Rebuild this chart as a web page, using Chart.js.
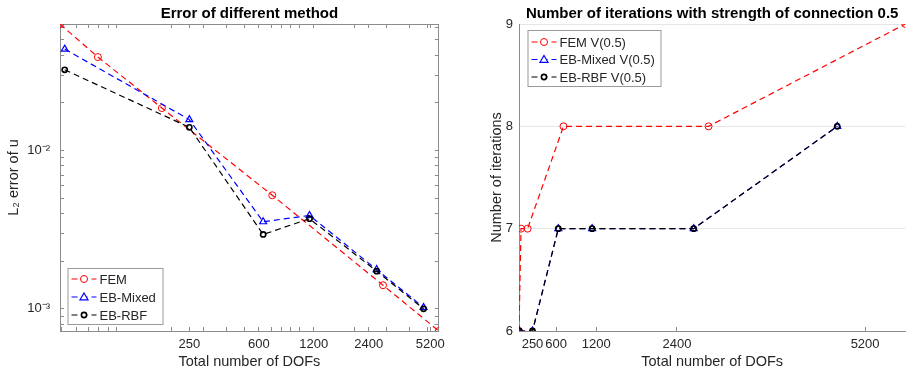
<!DOCTYPE html>
<html>
<head>
<meta charset="utf-8">
<script src="https://cdn.jsdelivr.net/npm/chart.js@4/dist/chart.umd.min.js"></script>
<style>
  body { margin: 0; background: #fff; }
  #wrap { position: relative; width: 911px; height: 373px; }
  canvas { position: absolute; top: 0; }
</style>
</head>
<body>
<div id="wrap">
  <canvas id="errChart" width="455" height="373" style="left:0"></canvas>
  <canvas id="iterChart" width="456" height="373" style="left:455px"></canvas>
</div>
<script>
// degrees of freedom (x values)
const dofFem = [49, 79, 177, 711, 2870, 5800];
const dofEb = [52, 250, 634, 1137, 2649, 4786];

// L2 error of u
const errFem = [0.0630, 0.0390, 0.01857, 0.00522, 0.00141, 0.000724];
const errMixed = [0.0438, 0.0157, 0.00355, 0.00389, 0.00177, 0.00102];
const errRbf = [0.0324, 0.01403, 0.00295, 0.00371, 0.00173, 0.00100];

// number of iterations
const itFem = [6, 7, 7, 8, 8, 9];
const itMixed = [6, 6, 7, 7, 7, 8];
const itRbf = [6, 6, 7, 7, 7, 8];

const dofTicks = [250, 600, 1200, 2400, 5200];
const logMinorX = [50, 60, 70, 80, 90, 100, 200, 250, 300, 400, 500, 600, 700, 800, 900, 1000, 1200, 2000, 2400, 3000, 4000, 5000, 5200];
const logMinorY = [0.0008, 0.0009, 0.001, 0.002, 0.003, 0.004, 0.005, 0.006, 0.007, 0.008, 0.009, 0.01, 0.02, 0.03, 0.04, 0.05, 0.06];

const FONT = "'Liberation Sans', Arial, Helvetica, sans-serif";
const TEXT = '#262626';
const AXIS = '#8c8c8c';

Chart.defaults.font.family = FONT;
Chart.defaults.color = TEXT;

function pts(xs, ys) {
  return xs.map((x, i) => ({ x: x, y: ys[i] }));
}

function series(label, xs, ys, color, style, radius, bw, order) {
  return {
    label: label,
    data: pts(xs, ys),
    showLine: true,
    borderColor: color,
    borderWidth: 1.2,
    borderDash: [6, 4],
    pointStyle: style,
    pointRadius: radius,
    pointBorderWidth: bw,
    pointBorderColor: color,
    pointBackgroundColor: 'rgba(0,0,0,0)',
    order: order
  };
}

// legend drawn like the MATLAB one: dashed line with the marker in the middle
const matLegend = {
  id: 'matLegend',
  afterDatasetsDraw(chart, args, o) {
    const ctx = chart.ctx;
    ctx.save();
    ctx.fillStyle = '#fff';
    ctx.fillRect(o.x, o.y, o.w, o.h);
    ctx.strokeStyle = '#9a9a9a';
    ctx.lineWidth = 1;
    ctx.strokeRect(o.x + 0.5, o.y + 0.5, o.w, o.h);
    chart.data.datasets.forEach((ds, i) => {
      const cy = o.y + o.rows[i];
      ctx.strokeStyle = ds.borderColor;
      ctx.lineWidth = ds.borderWidth;
      ctx.setLineDash([6, 4]);
      ctx.beginPath();
      ctx.moveTo(o.x + 4, cy);
      ctx.lineTo(o.x + 29, cy);
      ctx.stroke();
      ctx.setLineDash([]);
      const mx = o.x + 16.5, r = ds.pointRadius;
      ctx.lineWidth = ds.pointBorderWidth;
      ctx.beginPath();
      if (ds.pointStyle === 'triangle') {
        ctx.moveTo(mx, cy - r);
        ctx.lineTo(mx + r, cy + r * 0.7);
        ctx.lineTo(mx - r, cy + r * 0.7);
        ctx.closePath();
      } else {
        ctx.arc(mx, cy, r, 0, Math.PI * 2);
      }
      ctx.fillStyle = '#fff';
      ctx.fill();
      ctx.stroke();
      ctx.fillStyle = TEXT;
      ctx.font = '13px ' + FONT;
      ctx.textBaseline = 'middle';
      ctx.fillText(ds.label, o.x + 32, cy + 1);
    });
    ctx.restore();
  }
};

const boxAxis = {
  drawOnChartArea: false,
  drawTicks: true,
  tickLength: -4,
  color: AXIS
};

new Chart(document.getElementById('errChart'), {
  type: 'scatter',
  data: {
    datasets: [
      series('FEM', dofFem, errFem, '#ff0000', 'circle', 3.5, 1, 2),
      series('EB-Mixed', dofEb, errMixed, '#0000ff', 'triangle', 4, 1.2, 1),
      series('EB-RBF', dofEb, errRbf, '#000000', 'circle', 2.6, 1.6, 0)
    ]
  },
  plugins: [matLegend],
  options: {
    responsive: false,
    animation: false,
    events: [],
    layout: { padding: { left: 0, right: 6, top: 0, bottom: 0 } },
    plugins: {
      legend: { display: false },
      tooltip: { enabled: false },
      title: {
        display: true,
        text: 'Error of different method',
        fullSize: false,
        color: '#000',
        font: { size: 15, weight: 'bold', family: FONT },
        padding: { top: 5, bottom: 1 }
      },
      matLegend: { x: 67.5, y: 268, w: 95, h: 56, rows: [11, 29, 47] }
    },
    scales: {
      x: {
        type: 'logarithmic',
        position: 'bottom',
        min: 49,
        max: 5800,
        bounds: 'data',
        afterBuildTicks: s => { s.ticks = logMinorX.map(v => ({ value: v })); },
        afterFit: s => { s.height = 42; },
        ticks: {
          autoSkip: false, maxRotation: 0, minRotation: 0, padding: 10,
          color: TEXT, font: { size: 13 },
          callback: v => dofTicks.includes(v) ? String(v) : ''
        },
        grid: boxAxis,
        border: { color: AXIS, width: 1 },
        title: {
          display: true, text: 'Total number of DOFs', color: TEXT,
          font: { size: 14.5 }, padding: { top: 0, bottom: 2.3 }
        }
      },
      xTop: {
        type: 'logarithmic',
        position: 'top',
        min: 49,
        max: 5800,
        bounds: 'data',
        afterBuildTicks: s => { s.ticks = logMinorX.map(v => ({ value: v })); },
        afterFit: s => { s.height = 0; },
        ticks: { display: false },
        grid: boxAxis,
        border: { color: AXIS, width: 1 }
      },
      y: {
        type: 'logarithmic',
        position: 'left',
        min: 0.000724,
        max: 0.0631,
        bounds: 'data',
        afterBuildTicks: s => { s.ticks = logMinorY.map(v => ({ value: v })); },
        afterFit: s => { s.width = 60; },
        ticks: {
          autoSkip: false, padding: 14, color: TEXT, font: { size: 13 },
          callback: v => Math.abs(v - 0.01) < 1e-9 ? '10⁻²' : (Math.abs(v - 0.001) < 1e-10 ? '10⁻³' : '')
        },
        grid: boxAxis,
        border: { color: AXIS, width: 1 },
        title: {
          display: true, text: 'L₂ error of u', color: TEXT,
          font: { size: 14.5 }, padding: { top: 5, bottom: 0 }
        }
      },
      yRight: {
        type: 'logarithmic',
        position: 'right',
        min: 0.000724,
        max: 0.0631,
        bounds: 'data',
        afterBuildTicks: s => { s.ticks = logMinorY.map(v => ({ value: v })); },
        afterFit: s => { s.width = 0; },
        ticks: { display: false },
        grid: boxAxis,
        border: { color: AXIS, width: 1 }
      }
    }
  }
});

new Chart(document.getElementById('iterChart'), {
  type: 'scatter',
  data: {
    datasets: [
      series('FEM V(0.5)', dofFem, itFem, '#ff0000', 'circle', 3.5, 1, 2),
      series('EB-Mixed V(0.5)', dofEb, itMixed, '#0000ff', 'triangle', 4, 1.2, 1),
      series('EB-RBF V(0.5)', dofEb, itRbf, '#000000', 'circle', 2.6, 1.6, 0)
    ]
  },
  plugins: [matLegend],
  options: {
    responsive: false,
    animation: false,
    events: [],
    layout: { padding: { left: 0, right: 2, top: 0, bottom: 0 } },
    plugins: {
      legend: { display: false },
      tooltip: { enabled: false },
      title: {
        display: true,
        text: 'Number of iterations with strength of connection 0.5',
        fullSize: false,
        color: '#000',
        font: { size: 15, weight: 'bold', family: FONT },
        padding: { top: 5, bottom: 1 }
      },
      matLegend: { x: 72.5, y: 30, w: 133, h: 56, rows: [12, 29.5, 47] }
    },
    scales: {
      x: {
        type: 'linear',
        position: 'bottom',
        min: 49,
        max: 5800,
        bounds: 'data',
        afterBuildTicks: s => { s.ticks = dofTicks.map(v => ({ value: v })); },
        afterFit: s => { s.height = 42; },
        ticks: {
          autoSkip: false, maxRotation: 0, minRotation: 0, padding: 10,
          color: TEXT, font: { size: 13 },
          callback: v => String(v)
        },
        grid: boxAxis,
        border: { color: AXIS, width: 1 },
        title: {
          display: true, text: 'Total number of DOFs', color: TEXT,
          font: { size: 14.5 }, padding: { top: 0, bottom: 2.3 }
        }
      },
      y: {
        type: 'linear',
        position: 'left',
        min: 6,
        max: 9,
        bounds: 'data',
        afterFit: s => { s.width = 64; },
        ticks: { stepSize: 1, padding: 6, color: TEXT, font: { size: 13 } },
        grid: { drawOnChartArea: true, drawTicks: false, color: '#e6e6e6' },
        border: { color: AXIS, width: 1 },
        title: {
          display: true, text: 'Number of iterations', color: TEXT,
          font: { size: 14.5 }, padding: { top: 33, bottom: 0 }
        }
      }
    }
  }
});
</script>
</body>
</html>
